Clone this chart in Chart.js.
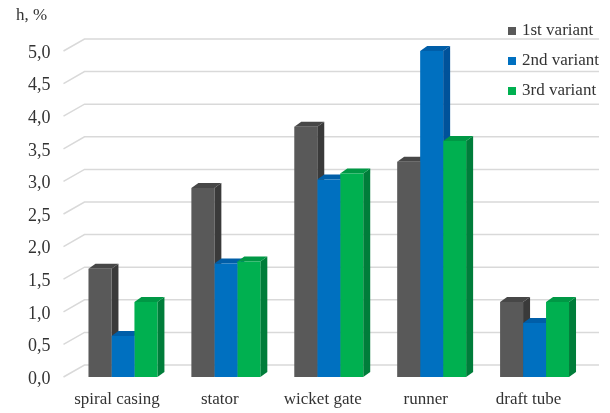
<!DOCTYPE html>
<html>
<head>
<meta charset="utf-8">
<script src="https://cdn.jsdelivr.net/npm/chart.js@4"></script>
<style>
  html, body { margin: 0; padding: 0; background: #fff; }
  #wrap { width: 610px; height: 413px; }
</style>
</head>
<body>
<div id="wrap"><canvas id="lossChart"></canvas></div>
<script>
// Hydraulic losses by flow-path element, three design variants
const elements = ["spiral casing", "stator", "wicket gate", "runner", "draft tube"];
const variantNames = ["1st variant", "2nd variant", "3rd variant"];
const variant1 = [1.66, 2.9, 3.84, 3.3, 1.15];
const variant2 = [0.63, 1.74, 3.03, 5.0, 0.83];
const variant3 = [1.15, 1.77, 3.12, 3.62, 1.15];
const yTicks = [0, 0.5, 1, 1.5, 2, 2.5, 3, 3.5, 4, 4.5, 5];

// front / side / top shades for each series
const shades = [
    { front: "#595959", side: "#3a3a3a", top: "#474747" },
    { front: "#0070c0", side: "#00529a", top: "#005ea8" },
    { front: "#00b050", side: "#007d3a", top: "#009845" }
];

const FONT = "'Liberation Serif', 'Times New Roman', serif";
const TEXT = "#333333";

// depth of the back wall and of each bar
const WALL = { dx: 21, dy: -12, shift: -8 };
const BAR = { dx: 7, dy: -5 };

const wall3d = {
    id: "wall3d",
    beforeDatasetsDraw(chart) {
        const { ctx, chartArea, scales } = chart;
        const y = scales.y;
        const x0 = chartArea.left + WALL.shift;
        const x1 = chartArea.right + WALL.shift + WALL.dx;
        ctx.save();
        ctx.strokeStyle = "#d9d9d9";
        ctx.lineWidth = 1.5;
        yTicks.forEach(v => {
            const py = y.getPixelForValue(v);
            ctx.beginPath();
            ctx.moveTo(x0, py);
            ctx.lineTo(x0 + WALL.dx, py + WALL.dy);
            ctx.lineTo(x1, py + WALL.dy);
            ctx.stroke();
        });
        ctx.restore();

        // side and top faces go under the front faces Chart.js draws next
        ctx.save();
        chart.data.datasets.forEach((ds, i) => {
            const s = shades[i];
            chart.getDatasetMeta(i).data.forEach(bar => {
                const { x, y: top, base, width } = bar.getProps(["x", "y", "base", "width"], true);
                const l = x - width / 2, r = x + width / 2;
                ctx.fillStyle = s.side;
                ctx.beginPath();
                ctx.moveTo(r, top);
                ctx.lineTo(r + BAR.dx, top + BAR.dy);
                ctx.lineTo(r + BAR.dx, base + BAR.dy);
                ctx.lineTo(r, base);
                ctx.closePath();
                ctx.fill();
                ctx.fillStyle = s.top;
                ctx.beginPath();
                ctx.moveTo(l, top);
                ctx.lineTo(l + BAR.dx, top + BAR.dy);
                ctx.lineTo(r + BAR.dx, top + BAR.dy);
                ctx.lineTo(r, top);
                ctx.closePath();
                ctx.fill();
            });
        });
        ctx.restore();
    },
    afterDraw(chart) {
        const { ctx } = chart;
        ctx.save();
        ctx.font = "17px " + FONT;
        ctx.fillStyle = TEXT;
        ctx.textBaseline = "middle";
        ctx.textAlign = "left";
        ctx.fillText("h, %", 16, 16);

        // legend in the upper right corner of the plot
        chart.data.datasets.forEach((ds, i) => {
            const ly = 31 + i * 30;
            ctx.fillStyle = ds.backgroundColor;
            ctx.fillRect(508, ly - 4, 8, 8);
            ctx.fillStyle = TEXT;
            ctx.fillText(ds.label, 522, ly);
        });
        ctx.restore();
    }
};

new Chart(document.getElementById("lossChart"), {
    type: "bar",
    data: {
        labels: elements,
        datasets: [variant1, variant2, variant3].map((vals, i) => ({
            label: variantNames[i],
            data: vals,
            backgroundColor: shades[i].front,
            borderWidth: 0,
            categoryPercentage: 0.67,
            barPercentage: 1.0
        }))
    },
    options: {
        responsive: true,
        maintainAspectRatio: false,
        animation: false,
        layout: { padding: { top: 51, right: 24, left: 0, bottom: 0 } },
        plugins: {
            legend: { display: false },
            tooltip: { enabled: false }
        },
        scales: {
            x: {
                grid: { display: false, drawTicks: false },
                border: { display: false },
                ticks: {
                    color: TEXT,
                    font: { family: FONT, size: 17 },
                    padding: 12,
                    labelOffset: -6,
                    maxRotation: 0,
                    autoSkip: false
                },
                afterFit(scale) { scale.height = 36; }
            },
            y: {
                min: 0,
                max: 5,
                grid: { display: false, drawTicks: false },
                border: { display: false },
                afterBuildTicks(scale) { scale.ticks = yTicks.map(v => ({ value: v })); },
                ticks: {
                    color: TEXT,
                    font: { family: FONT, size: 18 },
                    padding: 21,
                    labelOffset: 2,
                    callback: v => Number(v).toFixed(1).replace(".", ",")
                },
                afterFit(scale) { scale.width = 71.5; }
            }
        }
    },
    plugins: [wall3d]
});
</script>
</body>
</html>
